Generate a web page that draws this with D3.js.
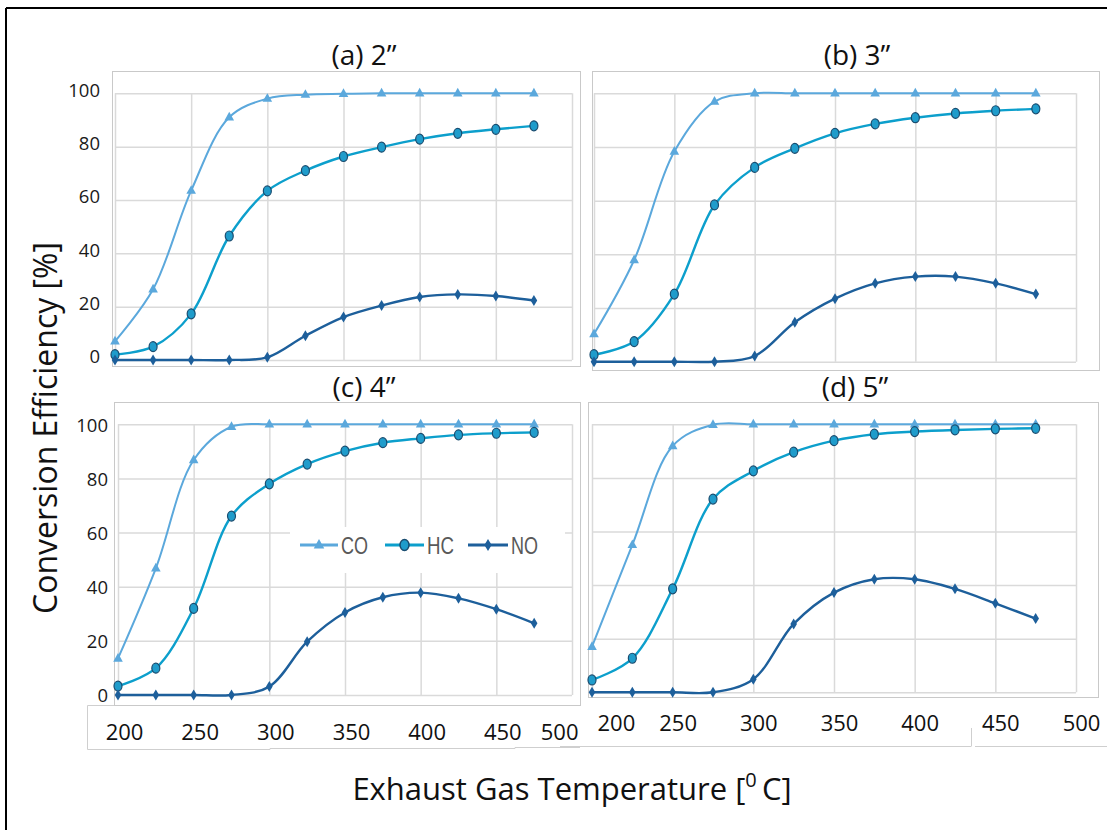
<!DOCTYPE html>
<html>
<head>
<meta charset="utf-8">
<script src="https://cdn.jsdelivr.net/npm/d3@7"></script>
<style>
  body { margin: 0; background: #fff; }
  svg { display: block; }
</style>
</head>
<body>
<svg id="chart" width="1107" height="830"></svg>
<script>
// Exhaust gas temperature (°C) at each measured point
const temperatures = [200, 225, 250, 275, 300, 325, 350, 375, 400, 425, 450, 475];
const xTicks = [200, 250, 300, 350, 400, 450, 500];
const yTicks = [0, 20, 40, 60, 80, 100];
const panelTitles = ["(a) 2\u201D", "(b) 3\u201D", "(c) 4\u201D", "(d) 5\u201D"];
const seriesNames = ["CO", "HC", "NO"];

// Conversion efficiency [%] — 2" catalyst
const co2in = [7, 26.5, 63.5, 91, 98, 99.5, 99.8, 100, 100, 100, 100, 100];
const hc2in = [2, 5, 17.3, 46.5, 63.4, 71, 76.3, 79.8, 82.8, 85, 86.5, 87.8];
const no2in = [0, 0, 0, 0, 1, 9.1, 16.1, 20.4, 23.6, 24.6, 24, 22.3];
// 3" catalyst
const co3in = [10.3, 37.9, 78.3, 96.9, 100, 100, 100, 100, 100, 100, 100, 100];
const hc3in = [2.6, 7.5, 25.2, 58.4, 72.4, 79.5, 85.1, 88.6, 90.9, 92.5, 93.5, 94.2];
const no3in = [0, 0, 0, 0, 2.1, 14.7, 23.5, 29.2, 31.7, 31.7, 29.2, 25.2];
// 4" catalyst
const co4in = [13.5, 46.8, 86.8, 99.1, 100, 100, 100, 100, 100, 100, 100, 100];
const hc4in = [3.3, 9.9, 32, 66.1, 78, 85.3, 90.1, 93.2, 94.8, 96.1, 96.7, 97];
const no4in = [0, 0, 0, 0, 3.1, 19.7, 30.5, 36.1, 37.8, 35.7, 31.7, 26.5];
// 5" catalyst
const co5in = [17, 55, 91.9, 99.8, 100, 100, 100, 100, 100, 100, 100, 100];
const hc5in = [4.6, 12.7, 38.6, 72.1, 82.6, 89.6, 93.9, 96.3, 97.3, 97.9, 98.3, 98.5];
const no5in = [0, 0, 0, 0, 4.9, 25.5, 37.2, 42.2, 42.2, 38.6, 33.2, 27.5];

const panelData = [
  [co2in, hc2in, no2in],
  [co3in, hc3in, no3in],
  [co4in, hc4in, no4in],
  [co5in, hc5in, no5in]
];

// Layout of the four sub-plots
const panels = [
  { plot: [115, 93.3, 572, 360],    box: [112, 71, 580, 366],  title: [364, 65],  yLabels: true,  yPad: 15, yShift: -3, xLabels: false },
  { plot: [594, 93.3, 1076, 361.7], box: [592, 71, 1099, 370], title: [857, 65],  yLabels: false, xLabels: false },
  { plot: [118, 424.3, 572, 695],   box: [114, 402, 580, 705], title: [364, 397], yLabels: true,  yPad: 10, yShift: 1,
    xLabels: true, xShift: 6, xY: 732, lastAnchor: "end" },
  { plot: [592, 424.3, 1076, 692.3], box: [588, 402, 1098, 697], title: [855, 397], yLabels: false,
    xLabels: true, xShift: 5, xY: 723, firstAnchor: "start" }
];

const colors = { CO: "#5ba8dc", HC: "#0c9fcc", NO: "#1d5f9b" };
const hcMarkerFill = "#1f9ccb";
const hcMarkerStroke = "#1a4d70";

const svg = d3.select("#chart");

// Frame lines along the left and top of the figure
svg.append("line").attr("x1", 6).attr("y1", 8).attr("x2", 1107).attr("y2", 8)
  .attr("stroke", "#000").attr("stroke-width", 2);
svg.append("line").attr("x1", 6).attr("y1", 8).attr("x2", 6).attr("y2", 830)
  .attr("stroke", "#000").attr("stroke-width", 2);

// Boxes that hold the x tick labels under the bottom panels
const labelBoxes = svg.append("g").attr("stroke", "#cfcfcf").attr("stroke-width", 1).attr("fill", "none");
labelBoxes.append("path").attr("d", "M114,705.5 H87.5 V749.5 H270 V748.5 H515 V747.5 H580");
labelBoxes.append("path").attr("d", "M560,746.5 H971 M971.5,728 V746.5 M975,746.5 H1107");

const markerPaths = {
  CO: "M0,-5.5 L4.8,3.2 L-4.8,3.2 Z",
  NO: "M0,-5.5 L3.3,0 L0,5.5 L-3.3,0 Z"
};

panels.forEach((p, i) => {
  const [x0, y0, x1, y1] = p.plot;
  const x = d3.scaleLinear().domain([200, 500]).range([x0, x1]);
  const y = d3.scaleLinear().domain([0, 100]).range([y1, y0]);
  const g = svg.append("g");

  // chart area box
  const [bx0, by0, bx1, by1] = p.box;
  g.append("rect").attr("x", bx0 + 0.5).attr("y", by0 + 0.5)
    .attr("width", bx1 - bx0).attr("height", by1 - by0)
    .attr("fill", "#fff").attr("stroke", "#c9c9c9").attr("stroke-width", 1);

  // horizontal gridlines
  g.append("g").attr("transform", `translate(${x0},0)`)
    .call(d3.axisLeft(y).tickValues(yTicks).tickSize(-(x1 - x0)).tickFormat(""))
    .call(s => s.select(".domain").remove())
    .call(s => s.selectAll(".tick line").attr("stroke", "#dadada").attr("stroke-width", 1.5));

  // vertical gridlines
  g.append("g").attr("transform", `translate(0,${y1})`)
    .call(d3.axisBottom(x).tickValues(xTicks).tickSize(-(y1 - y0)).tickFormat(""))
    .call(s => s.select(".domain").remove())
    .call(s => s.selectAll(".tick line").attr("stroke", "#dadada").attr("stroke-width", 1.5));

  // y tick labels
  if (p.yLabels) {
    g.append("g").attr("transform", `translate(${x0},${p.yShift})`)
      .call(d3.axisLeft(y).tickValues(yTicks).tickSize(0).tickPadding(p.yPad))
      .call(s => s.select(".domain").remove())
      .call(s => s.selectAll("text")
        .attr("font-family", "'Open Sans', sans-serif")
        .attr("font-size", 18.5).attr("fill", "#1a1a1a"));
  }

  // x tick labels
  if (p.xLabels) {
    g.append("g").attr("transform", `translate(${p.xShift},${p.xY})`)
      .call(d3.axisBottom(x).tickValues(xTicks).tickSize(0).tickPadding(0))
      .call(s => s.select(".domain").remove())
      .call(s => s.selectAll("text")
        .attr("font-family", "'Open Sans', sans-serif")
        .attr("font-size", 22).attr("fill", "#111")
        .attr("dy", "0.35em").attr("y", 0)
        .attr("text-anchor", (d, k, nodes) => {
          if (k === 0 && p.firstAnchor) return p.firstAnchor;
          if (k === nodes.length - 1 && p.lastAnchor) return p.lastAnchor;
          return "middle";
        }));
  }

  // panel title
  svg.append("text").attr("x", p.title[0]).attr("y", p.title[1])
    .attr("text-anchor", "middle")
    .attr("font-family", "'Open Sans', sans-serif").attr("font-size", 28)
    .attr("fill", "#111").text(panelTitles[i]);

  // series
  const line = d3.line()
    .x((d, k) => x(temperatures[k]))
    .y(d => y(d))
    .curve(d3.curveCatmullRom.alpha(0.5));

  seriesNames.forEach((name, si) => {
    const vals = panelData[i][si];
    g.append("path").datum(vals)
      .attr("d", line)
      .attr("fill", "none")
      .attr("stroke", colors[name])
      .attr("stroke-width", name === "CO" ? 2 : 2.4);

    const pts = g.append("g").selectAll("g").data(vals).join("g")
      .attr("transform", (d, k) => `translate(${x(temperatures[k])},${y(d)})`);
    if (name === "HC") {
      pts.append("ellipse").attr("rx", 4).attr("ry", 5)
        .attr("fill", hcMarkerFill).attr("stroke", hcMarkerStroke).attr("stroke-width", 1.2);
    } else {
      pts.append("path").attr("d", markerPaths[name]).attr("fill", colors[name]);
    }
  });

  // legend sits inside panel (c)
  if (i === 2) {
    const lg = svg.append("g");
    lg.append("rect").attr("x", 290).attr("y", 527).attr("width", 275).attr("height", 46).attr("fill", "#fff");
    const items = [
      { name: "CO", x1: 300, x2: 338, tx: 341 },
      { name: "HC", x1: 385, x2: 424, tx: 427 },
      { name: "NO", x1: 468, x2: 508, tx: 511 }
    ];
    items.forEach(it => {
      const ly = 545;
      lg.append("line").attr("x1", it.x1).attr("x2", it.x2).attr("y1", ly).attr("y2", ly)
        .attr("stroke", colors[it.name]).attr("stroke-width", 3);
      const m = lg.append("g").attr("transform", `translate(${(it.x1 + it.x2) / 2},${ly})`);
      if (it.name === "HC") {
        m.append("ellipse").attr("rx", 4.5).attr("ry", 5.5)
          .attr("fill", hcMarkerFill).attr("stroke", hcMarkerStroke).attr("stroke-width", 1.5);
      } else {
        m.append("path").attr("d", markerPaths[it.name]).attr("fill", colors[it.name])
          .attr("transform", "scale(1.1)");
      }
      lg.append("text").attr("x", it.tx).attr("y", ly + 9)
        .attr("font-family", "'Liberation Sans Narrow', 'Liberation Sans', sans-serif")
        .attr("font-size", 24).attr("fill", "#595959")
        .attr("textLength", 27).attr("lengthAdjust", "spacingAndGlyphs")
        .text(it.name);
    });
  }
});

// axis titles
svg.append("text")
  .attr("transform", "translate(57,428) rotate(-90)")
  .attr("text-anchor", "middle")
  .attr("font-family", "'Open Sans', sans-serif").attr("font-size", 32)
  .attr("fill", "#111")
  .text("Conversion Efficiency [%]");

const xt = svg.append("text")
  .attr("x", 572).attr("y", 800)
  .attr("text-anchor", "middle")
  .attr("font-family", "'Open Sans', sans-serif").attr("font-size", 31)
  .attr("fill", "#111");
xt.append("tspan").text("Exhaust Gas Temperature [");
xt.append("tspan").attr("font-size", 20).attr("dy", -13).text("0");
xt.append("tspan").attr("dy", 13).text("\u2009C]");
</script>
</body>
</html>
